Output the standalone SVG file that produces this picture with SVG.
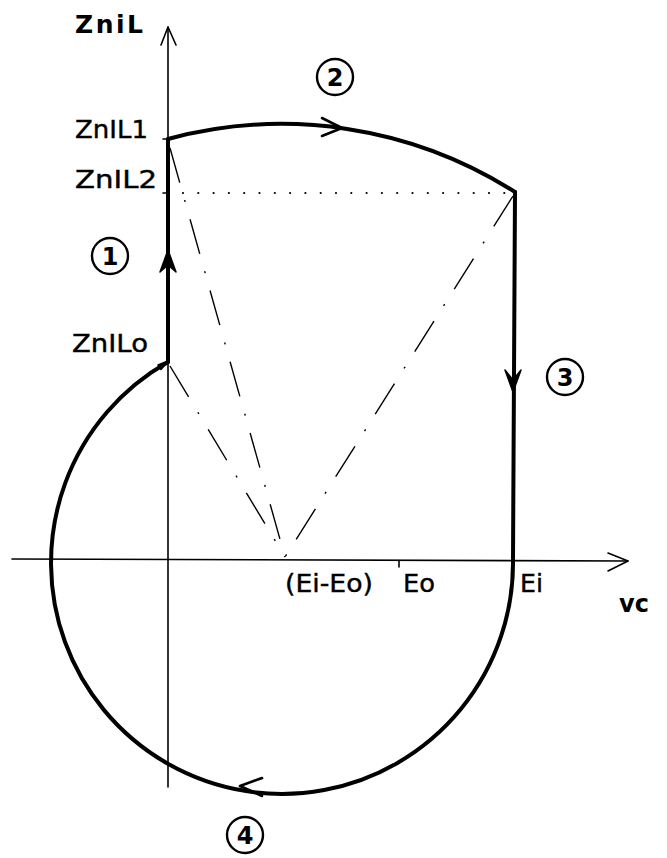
<svg xmlns="http://www.w3.org/2000/svg" width="667" height="858" viewBox="0 0 667 858">
<style>
.ax{fill:none;stroke:#000;stroke-width:1.6;stroke-linecap:round;stroke-linejoin:round}
.tr{fill:none;stroke:#000;stroke-width:4;stroke-linecap:round;stroke-linejoin:round}
.dd{fill:none;stroke:#000;stroke-width:1.4;stroke-dasharray:36 18 2 18}
.dot{fill:none;stroke:#000;stroke-width:2.2;stroke-linecap:round;stroke-dasharray:0 15.3}
.ah{fill:#000;stroke:#000;stroke-width:1.5;stroke-linejoin:round}
.oa{fill:none;stroke:#000;stroke-width:2.6;stroke-linecap:round;stroke-linejoin:round}
.t{font-family:"DejaVu Sans","Liberation Sans",sans-serif;font-size:24px;fill:#000;stroke:#000;stroke-width:0.4}
.b{font-family:"DejaVu Sans","Liberation Sans",sans-serif;font-weight:bold;fill:#000}
.c{fill:none;stroke:#000;stroke-width:2.4}
</style>
<g id="axes">
  <path class="ax" d="M168,787 L168,27"/>
  <path class="ax" d="M161,45 L168,27 L176,45"/>
  <path class="ax" d="M12,559 L628,561"/>
  <path class="ax" d="M608,553 L628,561 L608,571"/>
  <path class="ax" d="M399,561 L399,567"/>
  <path class="ax" d="M163,139 L168,139 M163,193 L168,193"/>
</g>
<g id="guides">
  <path class="dot" d="M183,193 L506,193"/>
  <path class="dd" d="M170,148 L285,557"/>
  <path class="dd" d="M170,366 L285,557"/>
  <path class="dd" d="M513,196 L285,557"/>
</g>
<g id="trajectory">
  <path class="tr" d="M168,362 L168,139"/>
  <path class="tr" d="M168,139 A435,435 0 0 1 515,192"/>
  <path class="tr" d="M515,192 L513,559"/>
  <path class="tr" d="M513,559 A231,231 0 1 1 168,362"/>
  <path class="ah" d="M168,250 L176,272 L168,265 L160,272 Z"/>
  <path class="oa" d="M322,118 L342,128 L322,136"/>
  <path class="ah" d="M513,392 L505,370 L513,380 L521,370 Z"/>
  <path class="oa" d="M262,778 L240,786 L262,796"/>
  <path class="ah" d="M168,361 L158,365 L161,369.5 Z"/>
</g>
<g id="labels">
  <text class="b" x="75" y="33" font-size="25" textLength="68" lengthAdjust="spacing">ZniL</text>
  <text class="t" x="75" y="138" textLength="73" lengthAdjust="spacingAndGlyphs">ZnIL1</text>
  <text class="t" x="75" y="188" textLength="82" lengthAdjust="spacingAndGlyphs">ZnIL2</text>
  <text class="t" x="72" y="352" textLength="76" lengthAdjust="spacingAndGlyphs">ZnILo</text>
  <text class="t" x="285" y="592" textLength="88" lengthAdjust="spacingAndGlyphs">(Ei-Eo)</text>
  <text class="t" x="403" y="592" textLength="32" lengthAdjust="spacingAndGlyphs">Eo</text>
  <text class="t" x="520" y="592" textLength="23" lengthAdjust="spacingAndGlyphs">Ei</text>
  <text class="b" x="619" y="612" font-size="24">vc</text>
</g>
<g id="phase1">
  <circle class="c" cx="110" cy="256" r="18"/>
  <text class="b" x="110" y="265" font-size="24" text-anchor="middle">1</text>
</g>
<g id="phase2">
  <circle class="c" cx="335" cy="77" r="18"/>
  <text class="b" x="335" y="86" font-size="24" text-anchor="middle">2</text>
</g>
<g id="phase3">
  <circle class="c" cx="565" cy="377" r="18"/>
  <text class="b" x="565" y="386" font-size="24" text-anchor="middle">3</text>
</g>
<g id="phase4">
  <circle class="c" cx="245" cy="835" r="18"/>
  <text class="b" x="245" y="844" font-size="24" text-anchor="middle">4</text>
</g>
</svg>
